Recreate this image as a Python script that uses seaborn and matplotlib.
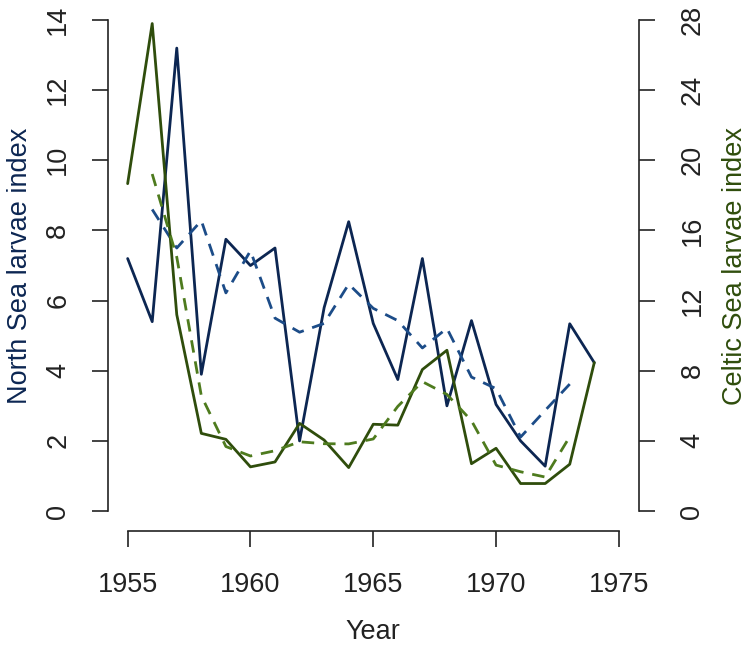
import pandas as pd
import seaborn as sns
import matplotlib.pyplot as plt

# data
years = list(range(1955, 1975))
north = [7.2, 5.4, 13.2, 3.9, 7.75, 7.0, 7.5, 2.0, 5.8, 8.25,
         5.35, 3.75, 7.2, 3.0, 5.43, 3.04, 2.0, 1.28, 5.34, 4.23]
celtic = [18.67, 27.8, 11.2, 4.43, 4.09, 2.52, 2.8, 5.0, 4.05, 2.48,
          4.95, 4.9, 8.07, 9.17, 2.7, 3.58, 1.57, 1.57, 2.67, 8.47]
ma_years = list(range(1956, 1974))
north_ma = [8.6, 7.5, 8.28, 6.22, 7.42, 5.5, 5.1, 5.35, 6.47, 5.78,
            5.43, 4.65, 5.21, 3.82, 3.49, 2.11, 2.87, 3.62]
celtic_ma = [19.22, 14.48, 6.57, 3.68, 3.14, 3.44, 3.95, 3.84, 3.83, 4.11,
             5.97, 7.38, 6.65, 5.15, 2.62, 2.24, 1.94, 4.24]

ns_col = '#0c2652'
ns_dash = '#1c4c88'
cs_col = '#2f4d0c'
cs_dash = '#4e7b1e'

sns.set_style('white')
plt.rcParams['font.family'] = ['Liberation Sans', 'DejaVu Sans']

fig = plt.figure(figsize=(7.54, 6.46), dpi=100)
ax = fig.add_axes([108/754, 1 - 530.7/646, 530.5/754, 530.3/646])
ax2 = ax.twinx()

df = pd.DataFrame({'year': years, 'north': north, 'celtic': celtic})
dma = pd.DataFrame({'year': ma_years, 'north': north_ma, 'celtic': celtic_ma})

sns.lineplot(data=df, x='year', y='north', ax=ax, color=ns_col, lw=2.0)
sns.lineplot(data=dma, x='year', y='north', ax=ax, color=ns_dash, lw=2.0,
             dashes=False, linestyle=(0, (4.5, 3.2)))
sns.lineplot(data=df, x='year', y='celtic', ax=ax2, color=cs_col, lw=2.0)
sns.lineplot(data=dma, x='year', y='celtic', ax=ax2, color=cs_dash, lw=2.0,
             dashes=False, linestyle=(0, (4.5, 3.2)))

ax.set_xlim(1954.2, 1975.8)
ax.set_ylim(-0.56, 14.56)
ax2.set_ylim(-1.12, 29.12)

ax.set_xticks([1955, 1960, 1965, 1970, 1975])
ax.set_yticks(range(0, 15, 2))
ax2.set_yticks(range(0, 29, 4))

for a in (ax, ax2):
    a.spines['top'].set_visible(False)
    a.patch.set_alpha(0)
ax2.spines['left'].set_visible(False)
ax2.spines['bottom'].set_visible(False)
ax.spines['right'].set_visible(False)
for s in ['left', 'bottom']:
    ax.spines[s].set_linewidth(1.2)
    ax.spines[s].set_color('#222222')
ax2.spines['right'].set_linewidth(1.2)
ax2.spines['right'].set_color('#222222')
ax.spines['left'].set_bounds(0, 14)
ax.spines['bottom'].set_bounds(1955, 1975)
ax2.spines['right'].set_bounds(0, 28)

fs = 19.5
ax.tick_params(axis='x', direction='out', length=11.5, width=1.2, colors='#222222',
               labelsize=fs, pad=18, bottom=True)
ax.tick_params(axis='y', direction='out', length=11.5, width=1.2, colors='#222222',
               labelsize=fs, pad=15, left=True, labelrotation=90)
ax2.tick_params(axis='y', direction='out', length=11.5, width=1.2, colors='#222222',
                labelsize=fs, pad=18, right=True, labelrotation=90)
for lab in ax.get_yticklabels():
    lab.set_va('center')
for lab in ax2.get_yticklabels():
    lab.set_va('center')

ax.set_xlabel('Year', fontsize=fs, color='#222222', labelpad=15)
ax.set_ylabel('North Sea larvae index', fontsize=fs, color=ns_col, labelpad=9)
ax2.set_ylabel('Celtic Sea larvae index', fontsize=fs, color=cs_col, labelpad=12)

fig.savefig('out.png', dpi=100)
